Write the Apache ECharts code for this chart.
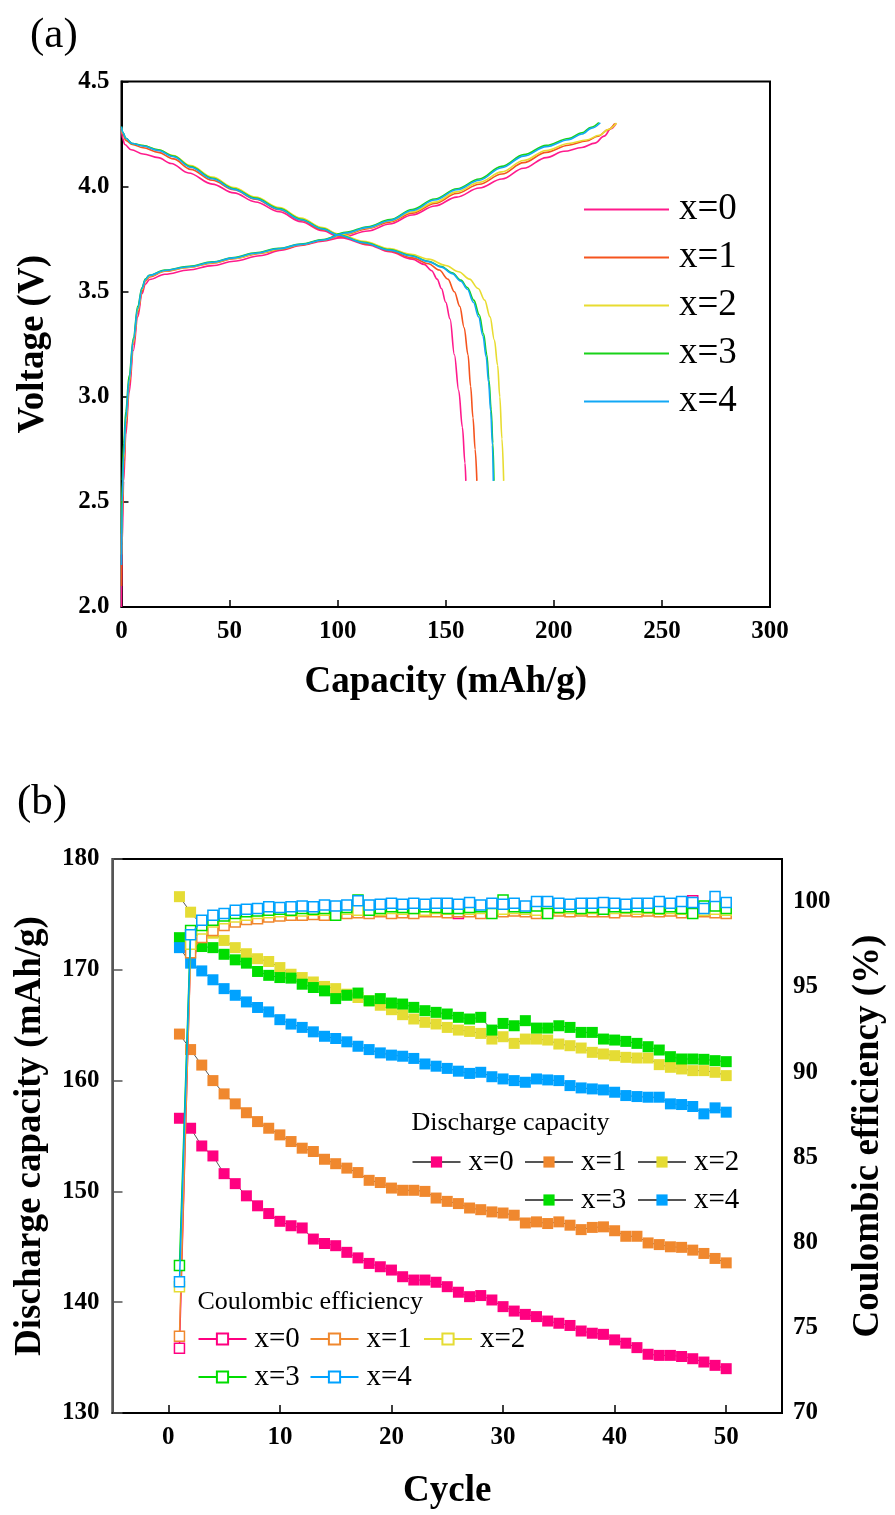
<!DOCTYPE html>
<html><head><meta charset="utf-8">
<script src="https://cdn.jsdelivr.net/npm/echarts@6/dist/echarts.min.js"></script>
<style>html,body{margin:0;padding:0;background:#fff}#c{width:895px;height:1515px}</style>
</head><body><div id="c"></div>
<script>
// ---------- DATA ----------
const seriesLabels = ['x=0', 'x=1', 'x=2', 'x=3', 'x=4'];
const topColors = ['#ff1a8c', '#f5541e', '#e8dc30', '#19d219', '#12a8f5'];
const botColors = ['#ff0080', '#f0882e', '#e5dc34', '#00dd00', '#00a2ff'];

// (a) charge curves [capacity mAh/g, voltage V]
const charge0 = [[0,2.0],[0.3,2.3],[1,2.6],[2,2.82],[3.5,3.02],[5.5,3.22],[7.5,3.38],[9.5,3.49],[11,3.535],[13,3.558],[20,3.583],[31,3.603],[42,3.624],[52,3.645],[64,3.671],[74,3.697],[83,3.72],[93,3.74],[101.5,3.757],[114,3.789],[124,3.822],[134.5,3.865],[145,3.908],[155,3.95],[165.5,3.993],[176,4.036],[186,4.087],[196.5,4.138],[204.7,4.168],[213,4.186],[219,4.207],[223.3,4.24],[226.4,4.275],[228.8,4.3]];
const charge1 = [[0,2.1],[0.3,2.4],[1,2.65],[2,2.85],[3.5,3.05],[5.5,3.25],[7.5,3.4],[9.5,3.5],[11,3.55],[13,3.57],[20,3.597],[31,3.615],[42,3.636],[52,3.657],[64,3.682],[74,3.702],[83,3.722],[93,3.744],[103.6,3.772],[114,3.8],[124,3.831],[134.5,3.874],[145,3.92],[155,3.967],[165.5,4.011],[176,4.06],[186,4.114],[196.5,4.163],[206.8,4.197],[215,4.217],[220.5,4.24],[225,4.27],[228.2,4.3]];
const charge2 = [[0,2.25],[0.3,2.5],[1,2.7],[2,2.88],[3.5,3.07],[5.5,3.26],[7.5,3.41],[9.5,3.51],[11,3.555],[13,3.575],[20,3.6],[31,3.617],[42,3.638],[52,3.659],[64,3.684],[74,3.705],[83,3.725],[93,3.746],[103.6,3.776],[114,3.804],[124,3.836],[134.5,3.88],[145,3.926],[155,3.975],[165.5,4.02],[176,4.07],[186,4.124],[196.5,4.172],[206.8,4.205],[215,4.222],[221,4.244],[225.5,4.273],[229,4.302]];
const charge3 = [[0,2.35],[0.3,2.6],[1,2.78],[2,2.93],[3.5,3.1],[5.5,3.28],[7.5,3.43],[9.5,3.52],[11,3.56],[12.8,3.578],[20,3.603],[31.4,3.621],[42,3.642],[52,3.663],[62,3.685],[72.6,3.706],[83,3.727],[93.3,3.748],[103.6,3.782],[113.9,3.809],[124.2,3.843],[134.5,3.891],[144.9,3.941],[155.2,3.99],[165.5,4.036],[175.8,4.096],[186.1,4.152],[196.5,4.196],[206.8,4.229],[213,4.256],[217.2,4.282],[220.8,4.305]];
const charge4 = [[0,2.2],[0.3,2.5],[1,2.72],[2,2.9],[3.5,3.08],[5.5,3.27],[7.5,3.42],[9.5,3.515],[11,3.557],[12.8,3.577],[20,3.601],[31.4,3.619],[42,3.64],[52,3.661],[62,3.683],[72.6,3.704],[83,3.725],[93.3,3.746],[103.6,3.779],[113.9,3.806],[124.2,3.839],[134.5,3.886],[144.9,3.936],[155.2,3.985],[165.5,4.03],[175.8,4.09],[186.1,4.145],[196.5,4.19],[206.8,4.223],[213,4.25],[217.5,4.278],[221.5,4.304]];

// (a) discharge curves
const discharge0 = [[0,4.27],[0.5,4.23],[1.5,4.2],[4.5,4.175],[10,4.155],[17,4.138],[23,4.11],[31,4.065],[42,4.012],[52,3.97],[62,3.927],[73,3.88],[83,3.833],[93,3.79],[101.5,3.757],[114,3.723],[124,3.69],[134.5,3.655],[140,3.63],[143.5,3.6],[146,3.56],[148,3.515],[150,3.45],[152,3.37],[154,3.2],[156,3.03],[157.7,2.855],[158.9,2.685],[159.3,2.6]];
const discharge1 = [[0,4.28],[0.5,4.25],[2,4.22],[5,4.2],[10,4.185],[17,4.163],[24,4.132],[32,4.082],[42,4.03],[52,3.985],[62,3.94],[73,3.89],[83,3.84],[93,3.795],[102,3.762],[114,3.726],[124,3.694],[134.5,3.661],[142,3.633],[147,3.603],[151,3.56],[154,3.5],[156.5,3.43],[158.5,3.33],[160.3,3.2],[161.5,3.05],[162.6,2.9],[163.6,2.75],[164.4,2.6]];
const discharge2 = [[0,4.28],[0.5,4.255],[2,4.23],[5,4.205],[10,4.195],[17,4.175],[24,4.148],[32,4.1],[42,4.045],[52,3.995],[62,3.95],[73,3.9],[83,3.85],[93,3.805],[100,3.775],[112,3.74],[124,3.705],[134,3.678],[142,3.655],[150,3.625],[156,3.595],[161,3.56],[165,3.515],[168,3.46],[170.5,3.38],[172.5,3.27],[174,3.15],[175,3.0],[176,2.8],[176.8,2.6]];
const discharge3 = [[0,4.285],[0.5,4.26],[2,4.23],[5,4.205],[10,4.195],[17,4.175],[24,4.145],[32,4.095],[42,4.04],[52,3.99],[62,3.945],[73,3.895],[83,3.845],[93,3.8],[100,3.772],[112,3.735],[124,3.7],[134,3.672],[142,3.645],[148,3.62],[153,3.59],[157,3.555],[160,3.52],[163,3.46],[165.5,3.39],[167.5,3.3],[169,3.2],[170,3.08],[171,2.94],[171.8,2.78],[172.3,2.6]];
const discharge4 = [[0,4.285],[0.5,4.26],[2,4.23],[5,4.205],[10,4.193],[17,4.172],[24,4.142],[32,4.092],[42,4.037],[52,3.987],[62,3.942],[73,3.892],[83,3.842],[93,3.798],[100,3.77],[112,3.733],[124,3.698],[134,3.67],[142,3.643],[148,3.617],[153,3.586],[157,3.55],[160,3.512],[162.8,3.45],[165.2,3.38],[167.2,3.29],[168.7,3.19],[169.8,3.07],[170.8,2.93],[171.6,2.77],[172.0,2.6]];

// (b) cycling
const cycles = [1,2,3,4,5,6,7,8,9,10,11,12,13,14,15,16,17,18,19,20,21,22,23,24,25,26,27,28,29,30,31,32,33,34,35,36,37,38,39,40,41,42,43,44,45,46,47,48,49,50];
const capX0 = [156.6,155.7,154.1,153.2,151.6,150.7,149.6,148.7,148.0,147.3,146.9,146.7,145.7,145.3,145.1,144.5,144.0,143.5,143.2,142.9,142.3,142.0,142.0,141.8,141.4,140.9,140.5,140.6,140.2,139.6,139.2,138.9,138.7,138.3,138.1,137.9,137.4,137.2,137.1,136.6,136.3,135.9,135.3,135.2,135.2,135.1,134.9,134.6,134.3,134.0];
const capX1 = [164.2,162.8,161.4,160.0,158.8,157.9,157.1,156.3,155.7,155.1,154.5,153.9,153.6,152.9,152.5,152.1,151.7,151.0,150.8,150.3,150.1,150.1,150.0,149.4,149.1,148.9,148.5,148.35,148.15,148.05,147.85,147.15,147.25,147.1,147.25,146.95,146.55,146.75,146.8,146.45,145.95,145.95,145.35,145.2,145.0,144.95,144.7,144.4,143.95,143.55];
const capX2 = [176.6,175.2,174.0,173.3,172.65,172.0,171.45,171.0,170.75,170.2,169.6,169.3,168.9,168.5,168.3,167.8,167.5,167.2,166.8,166.4,165.95,165.56,165.26,165.11,164.8,164.56,164.44,164.26,163.75,163.96,163.36,163.75,163.75,163.66,163.3,163.15,162.94,162.55,162.4,162.25,162.1,162.04,162.04,161.44,161.2,161.05,160.9,160.9,160.75,160.45];
const capX3 = [172.9,172.5,172.1,172.0,171.4,170.9,170.6,169.85,169.5,169.3,169.25,168.7,168.4,168.1,167.4,167.7,167.9,167.2,167.4,167.0,166.91,166.61,166.31,166.16,166.01,165.71,165.56,165.71,164.56,165.16,164.95,165.41,164.74,164.74,164.95,164.8,164.35,164.35,163.75,163.66,163.54,163.36,163.06,162.76,162.16,161.95,161.95,161.92,161.8,161.71];
const capX4 = [172.0,170.6,169.9,169.1,168.3,167.7,167.1,166.6,166.2,165.5,165.1,164.8,164.4,164.0,163.8,163.5,163.1,162.8,162.5,162.3,162.2,162.0,161.5,161.3,161.1,160.85,160.65,160.75,160.35,160.15,160.0,159.85,160.15,160.06,160.0,159.55,159.34,159.25,159.16,158.95,158.65,158.56,158.5,158.5,157.9,157.84,157.66,157.0,157.54,157.15];

const ceX0 = [73.8,97.3,98.3,98.7,98.9,99.05,99.15,99.2,99.3,99.3,99.35,99.4,99.4,99.45,99.4,99.5,99.45,99.45,99.5,99.45,99.4,99.5,99.5,99.45,99.5,99.3,99.5,99.45,99.5,99.45,99.5,99.5,99.6,99.5,99.5,99.55,99.5,99.5,99.55,99.5,99.6,99.5,99.55,99.5,99.55,99.5,100.05,99.5,99.8,99.5];
const ceX1 = [74.5,97.0,97.9,98.3,98.6,98.8,98.95,99.0,99.1,99.15,99.2,99.2,99.25,99.2,99.3,99.3,99.35,99.3,99.4,99.3,99.35,99.3,99.4,99.4,99.35,99.4,99.4,99.3,99.45,99.4,99.45,99.4,99.3,99.4,99.45,99.4,99.45,99.4,99.4,99.35,99.45,99.4,99.45,99.4,99.45,99.35,99.4,99.4,99.35,99.3];
const ceX2 = [77.4,97.5,98.4,98.8,99.0,99.1,99.2,99.3,99.35,99.4,99.45,99.45,99.5,99.5,99.5,99.55,99.5,99.55,99.5,99.6,99.55,99.6,99.5,99.6,99.55,99.6,99.55,99.6,99.6,99.55,99.6,99.55,99.5,99.65,99.6,99.6,99.55,99.6,99.55,99.6,99.6,99.55,99.6,99.55,99.6,99.55,99.6,99.5,99.55,99.5];
const ceX3 = [78.65,98.3,98.6,98.9,99.15,99.3,99.4,99.45,99.5,99.55,99.5,99.6,99.55,99.6,99.2,99.65,100.1,99.5,99.6,99.7,99.65,99.6,99.7,99.65,99.6,99.6,99.65,99.7,99.3,100.1,99.7,99.65,99.75,99.3,99.65,99.7,99.6,99.65,99.55,99.7,99.65,99.7,99.65,99.6,99.7,99.6,99.3,99.75,99.75,99.6];
const ceX4 = [77.7,98.05,98.9,99.2,99.3,99.5,99.55,99.6,99.7,99.65,99.7,99.75,99.7,99.8,99.75,99.8,100.05,99.8,99.85,99.9,99.85,99.9,99.85,99.9,99.9,99.85,99.95,99.8,99.9,99.85,99.9,99.75,100.0,100.0,99.9,99.85,99.9,99.9,99.95,99.9,99.85,99.9,99.9,100.0,99.9,100.0,99.95,99.6,100.3,99.95];

// tick values
const capTicks = [0, 50, 100, 150, 200, 250, 300];
const cycleTicks = [0, 10, 20, 30, 40, 50];

// ---------- CHART ----------
const FONT = '"Liberation Serif", "Times New Roman", serif';
const charges = [charge0, charge1, charge2, charge3, charge4];
const discharges = [discharge0, discharge1, discharge2, discharge3, discharge4];
const caps = [capX0, capX1, capX2, capX3, capX4];
const ces = [ceX0, ceX1, ceX2, ceX3, ceX4];

const tickLabel = {fontFamily: FONT, fontWeight: 'bold', fontSize: 25, color: '#000'};
const nameStyle = {fontFamily: FONT, fontWeight: 'bold', fontSize: 37, color: '#000'};

const series = [];
for (let i = 0; i < 5; i++) {
  [charges[i], discharges[i]].forEach(d => series.push({
    type: 'line', name: seriesLabels[i], xAxisIndex: 0, yAxisIndex: 0,
    data: d, showSymbol: false, symbol: 'none', smooth: 0.35, smoothMonotone: 'x',
    lineStyle: {color: topColors[i], width: 1.6}, itemStyle: {color: topColors[i]},
    z: 2 + i, silent: true
  }));
}
for (let i = 0; i < 5; i++) {
  series.push({
    type: 'line', name: 'dc_' + seriesLabels[i], xAxisIndex: 1, yAxisIndex: 1,
    data: cycles.map((c, k) => [c, caps[i][k]]),
    symbol: 'rect', symbolSize: 11, showAllSymbol: true,
    itemStyle: {color: botColors[i]},
    lineStyle: {color: '#555', width: 1},
    z: 3, silent: true
  });
}
for (let i = 0; i < 5; i++) {
  series.push({
    type: 'line', name: 'ce_' + seriesLabels[i], xAxisIndex: 1, yAxisIndex: 2,
    data: cycles.map((c, k) => [c, ces[i][k]]),
    symbol: 'rect', symbolSize: 10, showAllSymbol: true,
    itemStyle: {color: '#fff', borderColor: botColors[i], borderWidth: 1.5},
    lineStyle: {color: botColors[i], width: 1.5},
    z: 4 + i, silent: true
  });
}

const legends = [{
  data: seriesLabels, orient: 'vertical', left: 584, top: 191, padding: 0,
  icon: 'rect', itemWidth: 85, itemHeight: 2, itemGap: 11, selectedMode: false,
  textStyle: {fontFamily: FONT, fontSize: 37, lineHeight: 36, color: '#000', padding: [0, 0, 0, 5]}
}];
function addLeg(name, left, cy) {
  legends.push({
    data: [name], left: left, top: cy - 15, padding: 0, itemWidth: 48, itemHeight: 14,
    selectedMode: false, formatter: n => n.split('_')[1],
    textStyle: {fontFamily: FONT, fontSize: 29, lineHeight: 30, color: '#000', padding: [0, 0, 0, 3]}
  });
}
addLeg('dc_x=0', 411.5, 1162); addLeg('dc_x=1', 524, 1162); addLeg('dc_x=2', 637, 1162);
addLeg('dc_x=3', 524, 1200); addLeg('dc_x=4', 637, 1200);
addLeg('ce_x=0', 197.5, 1339); addLeg('ce_x=1', 309.5, 1339); addLeg('ce_x=2', 423, 1339);
addLeg('ce_x=3', 197.5, 1377); addLeg('ce_x=4', 309.5, 1377);

const txt = (t, x, y, size) => ({type: 'text', x: x, y: y, silent: true,
  style: {text: t, fontFamily: FONT, fontSize: size, fill: '#000', verticalAlign: 'middle', align: 'left'}});

const option = {
  animation: false,
  backgroundColor: '#fff',
  grid: [
    {left: 121.5, top: 81.5, width: 648.5, height: 525.5, show: true, borderColor: '#000', borderWidth: 2, containLabel: false},
    {left: 112.5, top: 859, width: 674.5, height: 554, show: true, borderColor: '#000', borderWidth: 2, containLabel: false}
  ],
  xAxis: [
    {type: 'value', gridIndex: 0, min: 0, max: 300, interval: 50,
     name: 'Capacity (mAh/g)', nameLocation: 'middle', nameGap: 57, nameTextStyle: nameStyle,
     axisLine: {show: true, onZero: false, lineStyle: {color: '#000', width: 2}},
     axisTick: {show: true, inside: true, length: 7, lineStyle: {color: '#000', width: 1.5}},
     axisLabel: Object.assign({margin: 12, formatter: v => capTicks.includes(v) ? String(v) : ''}, tickLabel),
     splitLine: {show: false}},
    {type: 'value', gridIndex: 1, min: -5, max: 55, interval: 5,
     name: 'Cycle', nameLocation: 'middle', nameGap: 60, nameTextStyle: nameStyle,
     axisLine: {show: true, onZero: false, lineStyle: {color: '#000', width: 2}},
     axisTick: {show: true, inside: true, length: 8, customValues: cycleTicks, lineStyle: {color: '#000', width: 1.5}},
     axisLabel: Object.assign({margin: 12, customValues: cycleTicks, formatter: v => cycleTicks.includes(v) ? String(v) : ''}, tickLabel),
     splitLine: {show: false}}
  ],
  yAxis: [
    {type: 'value', gridIndex: 0, min: 2.0, max: 4.5, interval: 0.5,
     name: 'Voltage (V)', nameLocation: 'middle', nameGap: 70, nameRotate: 90, nameTextStyle: nameStyle,
     axisLine: {show: true, onZero: false, lineStyle: {color: '#000', width: 2}},
     axisTick: {show: true, inside: true, length: 7, lineStyle: {color: '#000', width: 1.5}},
     axisLabel: Object.assign({margin: 12, formatter: v => v.toFixed(1)}, tickLabel),
     splitLine: {show: false}},
    {type: 'value', gridIndex: 1, min: 130, max: 180, interval: 10, position: 'left',
     name: 'Discharge capacity (mAh/g)', nameLocation: 'middle', nameGap: 64, nameRotate: 90, nameTextStyle: nameStyle,
     axisLine: {show: true, onZero: false, lineStyle: {color: '#555', width: 2}},
     axisTick: {show: true, inside: true, length: 10, lineStyle: {color: '#555', width: 1.5}},
     axisLabel: Object.assign({margin: 13}, tickLabel),
     splitLine: {show: false}},
    {type: 'value', gridIndex: 1, min: 70, max: 102.5, interval: 5, position: 'right',
     name: 'Coulombic efficiency (%)', nameLocation: 'middle', nameGap: 68, nameRotate: 90, nameTextStyle: nameStyle,
     axisLine: {show: true, onZero: false, lineStyle: {color: '#000', width: 2}},
     axisTick: {show: false},
     axisLabel: Object.assign({margin: 11, showMaxLabel: false, formatter: v => (v % 5 === 0 && v <= 100) ? String(v) : ''}, tickLabel),
     splitLine: {show: false}}
  ],
  legend: legends,
  graphic: [
    txt('(a)', 30, 36, 43),
    txt('(b)', 17, 803, 43),
    txt('Discharge capacity', 411.5, 1123, 26),
    txt('Coulombic efficiency', 197.5, 1302, 26)
  ],
  series: series
};
const chart = echarts.init(document.getElementById('c'), null, {renderer: 'canvas'});
chart.setOption(option);
</script>
</body></html>
